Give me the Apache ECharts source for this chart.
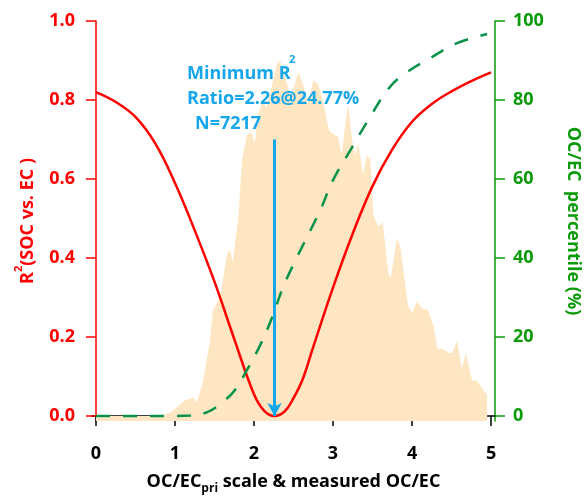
<!DOCTYPE html>
<html>
<head>
<meta charset="utf-8">
<script src="https://cdn.jsdelivr.net/npm/echarts@6/dist/echarts.min.js"></script>
<style>
  html, body { margin: 0; padding: 0; background: #fff; }
  #main { width: 584px; height: 497px; }
</style>
</head>
<body>
<div id="main"></div>
<script>
// histogram of measured OC/EC (drawn on the left scale)
const histX = [0, 0.81, 0.94, 1.13, 1.23, 1.28, 1.35, 1.44, 1.48, 1.57,
  1.66, 1.70, 1.73, 1.80, 1.85, 1.91, 1.97, 2.01, 2.05, 2.11,
  2.16, 2.23, 2.29, 2.33, 2.39, 2.46, 2.49, 2.56, 2.62, 2.68,
  2.75, 2.81, 2.87, 2.94, 2.96, 3.03, 3.06, 3.11, 3.15, 3.19,
  3.24, 3.28, 3.32, 3.38, 3.43, 3.47, 3.51, 3.57, 3.63, 3.70,
  3.73, 3.81, 3.85, 3.95, 4.00, 4.06, 4.14, 4.20, 4.27, 4.32,
  4.38, 4.46, 4.51, 4.57, 4.63, 4.68, 4.76, 4.82, 4.95, 4.95]
const histY = [0, 0, 0.008, 0.04, 0.046, 0.035, 0.084, 0.185, 0.268, 0.30,
  0.41, 0.42, 0.39, 0.50, 0.65, 0.71, 0.72, 0.69, 0.76, 0.80,
  0.78, 0.84, 0.89, 0.90, 0.86, 0.81, 0.82, 0.87, 0.84, 0.79,
  0.85, 0.84, 0.80, 0.73, 0.72, 0.71, 0.71, 0.66, 0.73, 0.79,
  0.70, 0.66, 0.69, 0.61, 0.66, 0.65, 0.51, 0.48, 0.49, 0.36,
  0.35, 0.45, 0.43, 0.28, 0.26, 0.29, 0.27, 0.27, 0.23, 0.17,
  0.17, 0.16, 0.16, 0.19, 0.12, 0.16, 0.09, 0.09, 0.053, 0]

// R2 (SOC vs EC) against OC/EC_pri scale
const r2X = [0, 0.25, 0.5, 0.75, 1.0, 1.25, 1.5, 1.75, 2.0, 2.13, 2.26, 2.39, 2.5,
  2.62, 2.75, 3.0, 3.25, 3.5, 3.75, 4.0, 4.25, 4.5, 4.75, 5.0]
const r2Y = [0.82, 0.795, 0.757, 0.69, 0.59, 0.47, 0.34, 0.195, 0.055, 0.013, 0, 0.012, 0.045,
  0.095, 0.175, 0.325, 0.462, 0.582, 0.675, 0.745, 0.79, 0.822, 0.848, 0.87]

// cumulative percentile of OC/EC
const pctX = [0, 0.5, 1.0, 1.2, 1.41, 1.59, 1.76, 1.91, 2.08, 2.23, 2.37, 2.54,
  2.84, 3.0, 3.22, 3.43, 3.72, 3.94, 4.23, 4.57, 4.95]
const pctY = [0, 0, 0, 0.1, 1.0, 3.3, 6.6, 11.6, 18.0, 25.0, 32.7, 40.0,
  52.2, 59.7, 67.3, 74.4, 83.3, 87.1, 90.6, 94.4, 96.7]

const xTicks = [0, 1, 2, 3, 4, 5]
const leftTicks = [0, 0.2, 0.4, 0.6, 0.8, 1.0]
const rightTicks = [0, 20, 40, 60, 80, 100]

const minRatio = 2.26
const arrowTop = 0.70

const FONT = 'Open Sans'
const RED = '#ff0000'
const GREEN = '#0a9a0a'
const BLUE = '#16a6ea'

const pairs = (xs, ys) => xs.map((x, i) => [x, ys[i]])

const chart = echarts.init(document.getElementById('main'))

const option = {
  animation: false,
  grid: { left: 92, right: 89, top: 21, bottom: 76, outerBoundsMode: 'none' },
  xAxis: {
    type: 'value',
    min: -0.05,
    max: 5.05,
    splitLine: { show: false },
    axisLine: { lineStyle: { color: '#000', width: 1.5 } },
    axisTick: { customValues: xTicks, length: 10, lineStyle: { color: '#000', width: 1.5 } },
    axisLabel: {
      customValues: xTicks, margin: 24, color: '#000',
      fontSize: 18, fontWeight: 'bold', fontFamily: FONT
    },
    name: '{m|OC/EC}{s|pri}{m| scale & measured OC/EC}',
    nameLocation: 'middle',
    nameGap: 52,
    nameTextStyle: {
      rich: {
        m: { fontSize: 18, fontWeight: 'bold', fontFamily: FONT, color: '#000', lineHeight: 20, verticalAlign: 'top' },
        s: { fontSize: 12, fontWeight: 'bold', fontFamily: FONT, color: '#000', lineHeight: 12, verticalAlign: 'top', padding: [10, 0, 0, 0] }
      }
    }
  },
  yAxis: [
    {
      type: 'value',
      position: 'left',
      min: -0.0127,
      max: 1.0,
      splitLine: { show: false },
      axisLine: { show: true, lineStyle: { color: RED, width: 1.5 } },
      axisTick: { show: true, customValues: leftTicks, length: 10, lineStyle: { color: RED, width: 1.5 } },
      axisLabel: {
        customValues: leftTicks, margin: 17, color: RED,
        fontSize: 18, fontWeight: 'bold', fontFamily: FONT,
        formatter: v => v.toFixed(1)
      },
      name: '{r|R}{s|2}{r|(SOC vs. EC )}',
      nameLocation: 'middle',
      nameRotate: 90,
      nameGap: 55,
      nameTextStyle: {
        rich: {
          r: { fontSize: 18, fontWeight: 'bold', fontFamily: FONT, color: RED, lineHeight: 20, verticalAlign: 'bottom' },
          s: { fontSize: 11, fontWeight: 'bold', fontFamily: FONT, color: RED, lineHeight: 12, verticalAlign: 'bottom', padding: [0, 0, 13, 0] }
        }
      }
    },
    {
      type: 'value',
      position: 'right',
      min: -1.27,
      max: 100,
      splitLine: { show: false },
      axisLine: { show: true, lineStyle: { color: GREEN, width: 1.5 } },
      axisTick: { show: true, customValues: rightTicks, length: 10, lineStyle: { color: GREEN, width: 1.5 } },
      axisLabel: {
        customValues: rightTicks, margin: 18, color: GREEN,
        fontSize: 18, fontWeight: 'bold', fontFamily: FONT
      },
      name: 'OC/EC  percentile (%)',
      nameLocation: 'middle',
      nameRotate: -90,
      nameGap: 69,
      nameTextStyle: { fontSize: 18, fontWeight: 'bold', fontFamily: FONT, color: GREEN }
    }
  ],
  series: [
    {
      name: 'histogram',
      type: 'line',
      data: pairs(histX, histY),
      symbol: 'none',
      silent: true,
      lineStyle: { width: 0 },
      itemStyle: { color: '#fde6c1' },
      areaStyle: { color: '#fde6c1', opacity: 1, origin: 'start' },
      z: 1
    },
    {
      name: 'R2',
      type: 'line',
      data: pairs(r2X, r2Y),
      symbol: 'none',
      smooth: 0.4,
      silent: true,
      lineStyle: { color: RED, width: 2.5 },
      itemStyle: { color: RED },
      z: 3,
      markLine: {
        silent: true,
        symbol: ['none', 'arrow'],
        symbolSize: [11, 13],
        label: { show: false },
        lineStyle: { color: BLUE, width: 3, type: 'solid' },
        data: [[{ coord: [minRatio, arrowTop] }, { coord: [minRatio, 0] }]]
      }
    },
    {
      name: 'percentile',
      type: 'line',
      yAxisIndex: 1,
      data: pairs(pctX, pctY),
      symbol: 'none',
      smooth: 0.4,
      silent: true,
      lineStyle: { color: '#08924a', width: 2.5, type: [14, 13] },
      itemStyle: { color: '#08924a' },
      z: 4
    }
  ],
  graphic: [
    { type: 'text', left: 187, top: 65, z: 10,
      style: { text: 'Minimum R', font: 'bold 18px "' + FONT + '"', fill: BLUE } },
    { type: 'text', left: 289, top: 54, z: 10,
      style: { text: '2', font: 'bold 11px "' + FONT + '"', fill: BLUE } },
    { type: 'text', left: 187, top: 90, z: 10,
      style: { text: 'Ratio=2.26@24.77%', font: 'bold 18px "' + FONT + '"', fill: BLUE } },
    { type: 'text', left: 195, top: 115, z: 10,
      style: { text: 'N=7217', font: 'bold 18px "' + FONT + '"', fill: BLUE } }
  ]
}

chart.setOption(option)
</script>
</body>
</html>
